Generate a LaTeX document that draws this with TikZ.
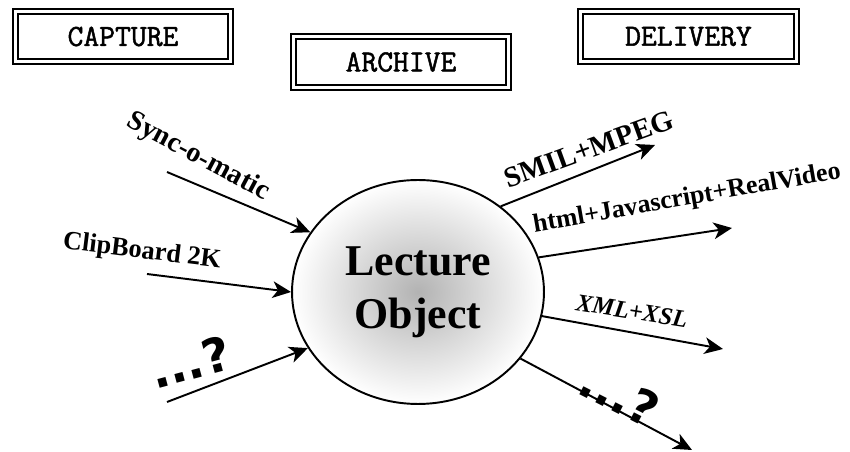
\documentclass[tikz,border=0pt]{standalone}
\usepackage{fontspec}
\setmainfont{Liberation Serif}
\newfontfamily\stagefnt[FakeBold=1.6]{Latin Modern Mono}
\newfontfamily\dotfnt{DejaVu Sans}
\usetikzlibrary{shapes.geometric,arrows.meta}

\begin{document}
\begin{tikzpicture}[x=0.02cm,y=-0.02cm,
  stage/.style={draw,double,double distance=1.6pt,line width=1.1pt,
    minimum width=4.31cm,minimum height=1.01cm,inner sep=0pt,
    font=\stagefnt\fontsize{17.5}{19}\selectfont},
  feed/.style={line width=1.1pt,-{Stealth[length=10.5pt,width=9.5pt,inset=3pt]}},
  lbl/.style={inner sep=0pt,font=\bfseries\fontsize{15}{17}\selectfont},
  more/.style={inner sep=0pt,font=\dotfnt\bfseries\fontsize{27}{30}\selectfont}]
\useasboundingbox (0,0) rectangle (850,452);

\node[stage] (capture) at (123,36.5) {CAPTURE};
\node[stage] (archive) at (401,62) {ARCHIVE};
\node[stage] (delivery) at (688.5,36.5) {DELIVERY};

\node[draw,ellipse,line width=1.1pt,minimum width=5.04cm,minimum height=4.48cm,
  inner color=black!30,outer color=white,align=center,
  font=\bfseries\fontsize{25}{30}\selectfont] (obj) at (418,292) {Lecture\\Object};

% sources
\coordinate (sync) at (167,172);
\coordinate (clip) at (147,274);
\coordinate (other) at (167,402);
\draw[feed] (sync) -- (obj.151);
\draw[feed] (clip) -- (obj.180);
\draw[feed] (other) -- (obj.207);
\node[lbl,rotate=-28,font=\bfseries\fontsize{16}{18}\selectfont] (synclbl) at (198,157) {Sync-o-matic};
\node[lbl,rotate=-7] (cliplbl) at (142,252) {ClipBoard 2K};
\node[more,rotate=15] (otherlbl) at (190,362) {...?};

% formats
\coordinate (smil) at (655,145);
\coordinate (html) at (732,228);
\coordinate (xml) at (723,349);
\coordinate (rest) at (692,450);
\draw[feed] (obj.46) -- (smil);
\draw[feed] (obj.16) -- (html);
\draw[feed] (obj.349) -- (xml);
\draw[feed] (obj.327) -- (rest);
\node[lbl,rotate=20,font=\bfseries\fontsize{16.5}{18}\selectfont] (smillbl) at (589,149) {SMIL+MPEG};
\node[lbl,rotate=10,font=\bfseries\fontsize{14.8}{17}\selectfont] (htmllbl) at (687,199) {html+Javascript+RealVideo};
\node[lbl,rotate=-9,font=\bfseries\itshape\fontsize{14}{16}\selectfont] (xmllbl) at (632,311) {XML+XSL};
\node[more,rotate=-27] (restlbl) at (620,395) {...?};
\end{tikzpicture}
\end{document}
